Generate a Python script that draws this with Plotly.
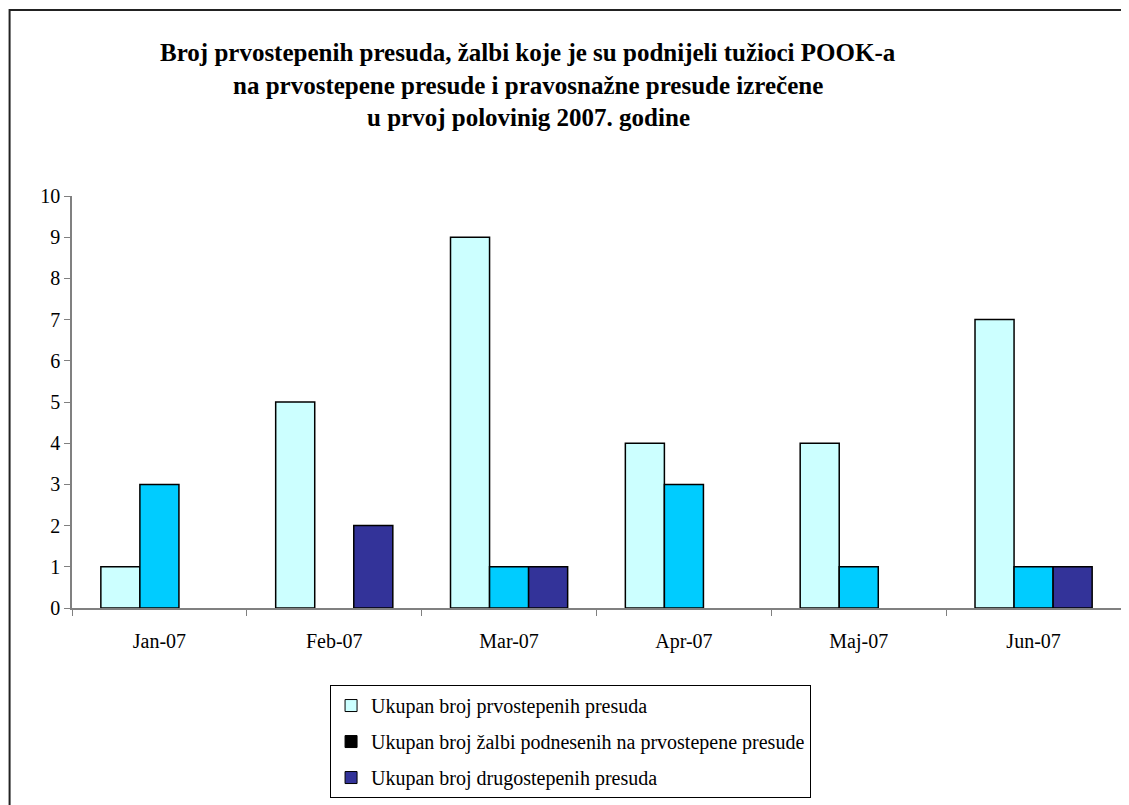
import plotly.graph_objects as go

# podaci
months = ["Jan-07", "Feb-07", "Mar-07", "Apr-07", "Maj-07", "Jun-07"]
prvostepene = [1, 5, 9, 4, 4, 7]
zalbe = [3, 0, 1, 3, 1, 1]
drugostepene = [0, 2, 1, 0, 0, 1]

series_names = [
    "Ukupan broj prvostepenih presuda",
    "Ukupan broj žalbi podnesenih na prvostepene presude",
    "Ukupan broj drugostepenih presuda",
]
bar_colors = ["#CCFFFF", "#00CCFF", "#333399"]
legend_colors = ["#CCFFFF", "#000000", "#333399"]

title_lines = [
    "Broj prvostepenih presuda, žalbi koje je su podnijeli tužioci POOK-a",
    "na prvostepene presude i pravosnažne presude izrečene",
    "u prvoj polovinig 2007. godine",
]

FONT = "Times New Roman, Liberation Serif, serif"

fig = go.Figure()

for vals, name, color in zip([prvostepene, zalbe, drugostepene], series_names, bar_colors):
    fig.add_trace(go.Bar(
        x=months,
        y=[v if v else None for v in vals],
        name=name,
        marker=dict(color=color, line=dict(color="black", width=1.5)),
        showlegend=False,
        hoverinfo="skip",
    ))

# legenda (u originalu druga serija ima crni kvadrat)
for i, (name, color) in enumerate(zip(series_names, legend_colors)):
    fig.add_trace(go.Bar(
        x=[None],
        y=[None],
        name=name,
        marker=dict(color=color, line=dict(color="black", width=1)),
        xaxis="x2",
        yaxis="y2",
        legendgroup=f"g{i}",
        showlegend=True,
    ))

ann = []
for i, line in enumerate(title_lines):
    ann.append(dict(
        text=f"<b>{line}</b>",
        xref="paper", yref="paper",
        x=0.4347, y=[1.3495, 1.2694, 1.1917][i],
        xanchor="center", yanchor="middle",
        showarrow=False,
        font=dict(family=FONT, size=25, color="black"),
    ))

fig.update_layout(
    width=1129,
    height=805,
    margin=dict(l=64, r=16, t=188, b=205),
    paper_bgcolor="white",
    plot_bgcolor="white",
    font=dict(family=FONT, size=20, color="black"),
    barmode="group",
    bargap=0.33,
    bargroupgap=0,
    annotations=ann,
    xaxis=dict(
        type="category",
        showline=True,
        linecolor="#808080",
        linewidth=1.5,
        ticks="outside",
        tickson="boundaries",
        ticklen=6,
        tickcolor="#808080",
        showgrid=False,
        ticklabelstandoff=14,
        tickfont=dict(family=FONT, size=20),
    ),
    yaxis=dict(
        range=[0, 10],
        dtick=1,
        showline=True,
        linecolor="#808080",
        linewidth=1.5,
        ticks="outside",
        ticklen=6,
        tickcolor="#808080",
        showgrid=False,
        zeroline=False,
        tickfont=dict(family=FONT, size=20),
    ),
    xaxis2=dict(overlaying="x", visible=False),
    yaxis2=dict(overlaying="y", visible=False),
    legend=dict(
        x=0.246,
        y=-0.187,
        xanchor="left",
        yanchor="top",
        bordercolor="black",
        borderwidth=1,
        bgcolor="white",
        font=dict(family=FONT, size=20),
        tracegroupgap=7,
        traceorder="grouped",
    ),
    shapes=[dict(
        type="rect",
        xref="paper", yref="paper",
        x0=-0.0595, x1=1.2,
        y0=-0.6, y1=1.4515,
        line=dict(color="#222222", width=2),
        fillcolor="rgba(0,0,0,0)",
        layer="below",
    )],
)

fig.write_html("out.html")
